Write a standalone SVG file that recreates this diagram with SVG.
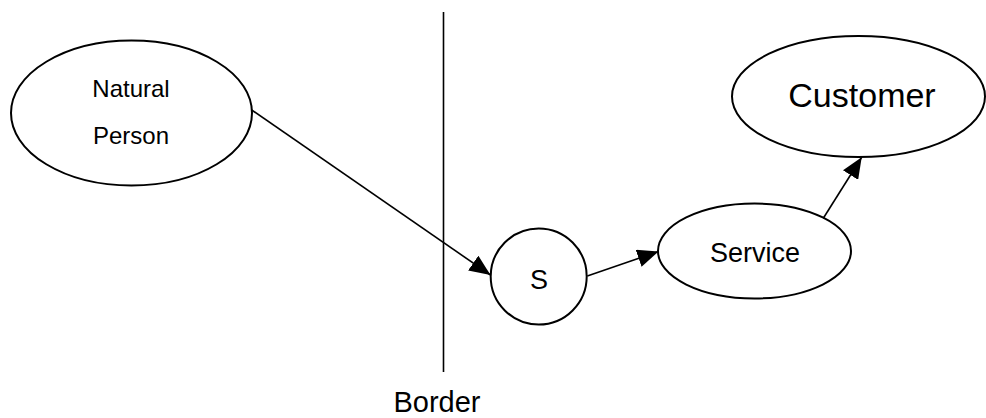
<svg xmlns="http://www.w3.org/2000/svg" width="986" height="418" viewBox="0 0 986 418">
<style>
.node{fill:#fff;stroke:#000;stroke-width:2}
.lbl{font-family:"Liberation Sans",Arial,sans-serif;fill:#000;text-anchor:middle}
.edge{stroke:#000;stroke-width:1.6;fill:none;marker-end:url(#ah)}
</style>
<defs>
<marker id="ah" markerUnits="userSpaceOnUse" markerWidth="22" markerHeight="18" refX="21" refY="9" orient="auto">
<path d="M0,0 L21,9 L0,18 Z" fill="#000"/>
</marker>
</defs>
<rect width="986" height="418" fill="#fff"/>
<g id="border">
<line x1="443.5" y1="12" x2="443.5" y2="372" stroke="#000" stroke-width="1.6"/>
<text class="lbl" x="437" y="412" font-size="29">Border</text>
</g>
<g id="natural-person">
<ellipse class="node" cx="131.5" cy="113" rx="120.5" ry="72.5"/>
<text class="lbl" x="131" y="97" font-size="24">Natural</text>
<text class="lbl" x="131" y="144" font-size="24">Person</text>
</g>
<g id="s">
<circle class="node" cx="538.7" cy="276.5" r="48"/>
<text class="lbl" x="539" y="289" font-size="27">S</text>
</g>
<g id="service">
<ellipse class="node" cx="754.5" cy="251" rx="96.5" ry="47.5"/>
<text class="lbl" x="755" y="262" font-size="27">Service</text>
</g>
<g id="customer">
<ellipse class="node" cx="858.5" cy="96.5" rx="126.5" ry="60.5"/>
<text class="lbl" x="862" y="107" font-size="34">Customer</text>
</g>
<g id="connectors">
<line class="edge" x1="251.7" y1="110" x2="490.5" y2="275"/>
<line class="edge" x1="587.3" y1="276" x2="658.5" y2="251.5"/>
<line class="edge" x1="823.3" y1="218.3" x2="861.7" y2="157.3"/>
</g>
</svg>
